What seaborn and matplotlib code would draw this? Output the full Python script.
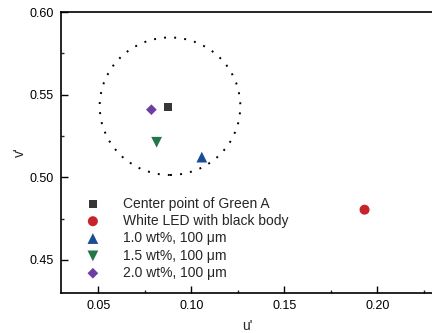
import matplotlib
matplotlib.use("Agg")
import matplotlib.pyplot as plt
from matplotlib.patches import Ellipse
import seaborn as sns
import pandas as pd

# ---- data ----
series = ["Center point of Green A", "White LED with black body",
          "1.0 wt%, 100 \u03bcm", "1.5 wt%, 100 \u03bcm", "2.0 wt%, 100 \u03bcm"]
u_vals = [0.0877, 0.1932, 0.1057, 0.0814, 0.0786]
v_vals = [0.5427, 0.4804, 0.5122, 0.5212, 0.5409]
colors = ["#363636", "#C8222B", "#1B4C94", "#247548", "#6E3FA0"]
markers = ["s", "o", "^", "v", "D"]
sizes = [34, 52, 60, 60, 30]

# tolerance circle around Green A (u', v' radii)
circle_center = [0.0886, 0.5430]
circle_radius = [0.0378, 0.0416]

xticks = [0.05, 0.10, 0.15, 0.20]
yticks = [0.45, 0.50, 0.55, 0.60]

df = pd.DataFrame({"u": u_vals, "v": v_vals, "series": series})

sns.set_theme(style="ticks")
plt.rcParams["font.family"] = ["Liberation Sans", "DejaVu Sans"]

fig = plt.figure(figsize=(4.32, 3.33), dpi=100)
ax = fig.add_axes([61 / 432, 1 - 293 / 333, 372 / 432, (293 - 12) / 333])

for i, name in enumerate(series):
    sns.scatterplot(data=df[df["series"] == name], x="u", y="v", ax=ax,
                    marker=markers[i], color=colors[i], s=sizes[i],
                    edgecolor="none", label=name, zorder=3)

ell = Ellipse(circle_center, 2 * circle_radius[0], 2 * circle_radius[1],
              fill=False, edgecolor="black", linewidth=1.4,
              linestyle=(0, (1, 4.2)), zorder=2)
ax.add_patch(ell)

ax.set_xlim(0.03, 0.23)
ax.set_ylim(0.43, 0.60)
ax.set_xticks(xticks)
ax.set_yticks(yticks)
ax.set_xticks([0.075, 0.125, 0.175, 0.225], minor=True)
ax.set_yticks([0.475, 0.525, 0.575], minor=True)
ax.set_xticklabels([f"{t:.2f}" for t in xticks])
ax.set_yticklabels([f"{t:.2f}" for t in yticks])
ax.tick_params(which="major", direction="in", length=5, width=1, labelsize=9,
               colors="black", pad=5)
ax.tick_params(which="minor", direction="in", length=2.5, width=1)
ax.tick_params(top=False, right=False, which="both")

for side in ["left", "bottom", "top"]:
    ax.spines[side].set_linewidth(1.2)
    ax.spines[side].set_color("black")
ax.spines["right"].set_visible(False)

ax.set_xlabel("u'", fontsize=10, labelpad=5)
ax.set_ylabel("v'", fontsize=10, labelpad=2)

leg = ax.legend(loc="upper left", bbox_to_anchor=(0.0446, 0.368), frameon=False,
                fontsize=10, handletextpad=1.55, labelspacing=0.24,
                borderpad=0, handlelength=1.2)

fig.savefig("out.png", dpi=100)
